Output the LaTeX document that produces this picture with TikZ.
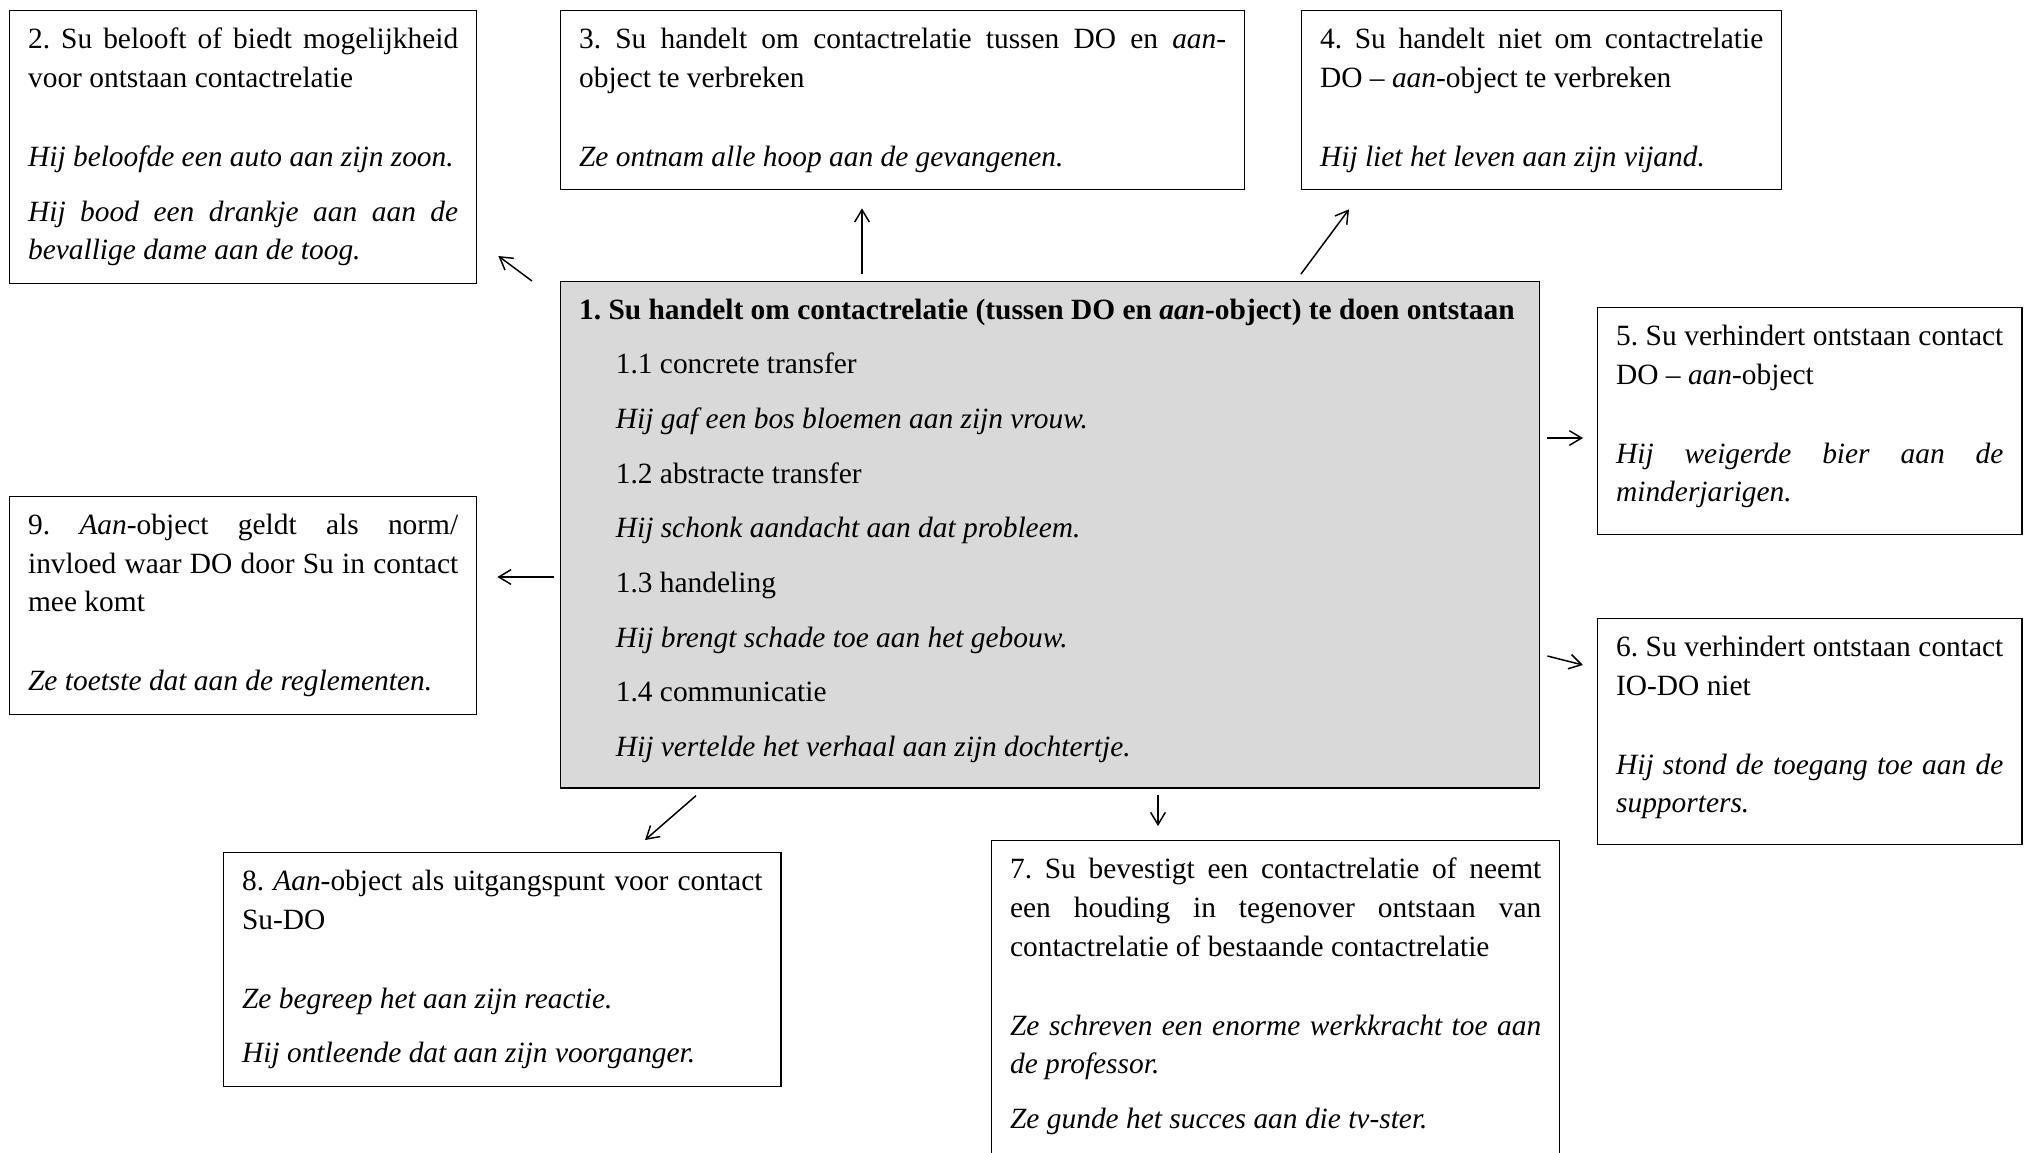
\documentclass[tikz,border=0pt]{standalone}
\usepackage{fontspec}
\setmainfont{Liberation Serif}
\usetikzlibrary{arrows.meta}
\definecolor{boxgray}{HTML}{D9D9D9}

\begin{document}
\begin{tikzpicture}[x=0.408pt, y=-0.408pt,
    box/.style={draw, line width=0.6pt, anchor=north west, align=justify,
        inner xsep=7.5pt, inner ysep=7pt, font=\fontsize{12}{15.8}\selectfont\frenchspacing,
        execute at begin node={\setlength{\parskip}{6.5pt}}},
    arr/.style={-{Straight Barb[length=5pt,width=6pt]}, line width=0.6pt}]
    \def\gap{\par\vspace{10pt}}
    \useasboundingbox (0,0) rectangle (2024,1152);

    \node[box, fill=boxgray, text width=384.4pt] at (560,281) (N1) {\mbox{\textbf{1. Su handelt om contactrelatie (tussen DO en \textit{aan}-object) te doen ontstaan}}\par
        \setlength{\leftskip}{15pt}1.1 concrete transfer\par
        \textit{Hij gaf een bos bloemen aan zijn vrouw.}\par
        1.2 abstracte transfer\par
        \textit{Hij schonk aandacht aan dat probleem.}\par
        1.3 handeling\par
        \textit{Hij brengt schade toe aan het gebouw.}\par
        1.4 communicatie\par
        \textit{Hij vertelde het verhaal aan zijn dochtertje.}\rule[-5.8pt]{0pt}{0pt}\par};
    \node[box, text width=175.5pt] at (9,10) (N2) {2. Su belooft of biedt mogelijkheid\linebreak voor ontstaan contactrelatie\gap
        \textit{Hij beloofde een auto aan zijn zoon.}\par
        \textit{Hij bood een drankje aan aan de\linebreak bevallige dame aan de toog.}};
    \node[box, text width=264pt] at (560,10) (N3) {3. Su handelt om contactrelatie tussen DO en \textit{aan}-\linebreak object te verbreken\gap
        \textit{Ze ontnam alle hoop aan de gevangenen.}};
    \node[box, text width=180.8pt] at (1301,10) (N4) {4. Su handelt niet om contactrelatie\linebreak DO -- \textit{aan}-object te verbreken\gap
        \textit{Hij liet het leven aan zijn vijand.}};
    \node[box, text width=158pt] at (1597,307) (N5) {5. Su verhindert ontstaan contact\linebreak DO -- \textit{aan}-object\gap
        \textit{Hij weigerde bier aan de\linebreak minderjarigen.}\rule[-6.3pt]{0pt}{0pt}};
    \node[box, text width=158pt] at (1597,618) (N6) {6. Su verhindert ontstaan contact\linebreak IO-DO niet\gap
        \textit{Hij stond de toegang toe aan de\linebreak supporters.}\rule[-5.8pt]{0pt}{0pt}};
    \node[box, text width=216.7pt] at (991,840) (N7) {7. Su bevestigt een contactrelatie of neemt\linebreak een houding in tegenover ontstaan van\linebreak contactrelatie of bestaande contactrelatie\gap
        \textit{Ze schreven een enorme werkkracht toe aan\linebreak de professor.}\par
        \textit{Ze gunde het succes aan die tv-ster.}\rule[-14pt]{0pt}{0pt}};
    \node[box, text width=212.3pt] at (223,852) (N8) {8. \textit{Aan}-object als uitgangspunt voor contact\linebreak Su-DO\gap
        \textit{Ze begreep het aan zijn reactie.}\par
        \textit{Hij ontleende dat aan zijn voorganger.}};
    \node[box, text width=175.5pt] at (9,496) (N9) {9. \textit{Aan}-object geldt als norm/\linebreak invloed waar DO door Su in contact\linebreak mee komt\gap
        \textit{Ze toetste dat aan de reglementen.}};

    \draw[arr] ([shift={(-28,0)}]N1.north west) -- ([shift={(21,-28)}]N2.south east);
    \draw[arr] ([shift={(302,-7)}]N1.north west) -- ([shift={(302,18)}]N3.south west);
    \draw[arr] ([shift={(741,-7)}]N1.north west) -- ([shift={(48,19)}]N4.south west);
    \draw[arr] ([shift={(7,157)}]N1.north east) -- ([shift={(-14,131)}]N5.north west);
    \draw[arr] ([shift={(7,375)}]N1.north east) -- ([shift={(-14,47)}]N6.north west);
    \draw[arr] ([shift={(-6,296)}]N1.north west) -- ([shift={(20,81)}]N9.north east);
    \draw[arr] ([shift={(136,7)}]N1.south west) -- ([shift={(422,-12)}]N8.north west);
    \draw[arr] ([shift={(598,6)}]N1.south west) -- ([shift={(167,-14)}]N7.north west);
\end{tikzpicture}
\end{document}
